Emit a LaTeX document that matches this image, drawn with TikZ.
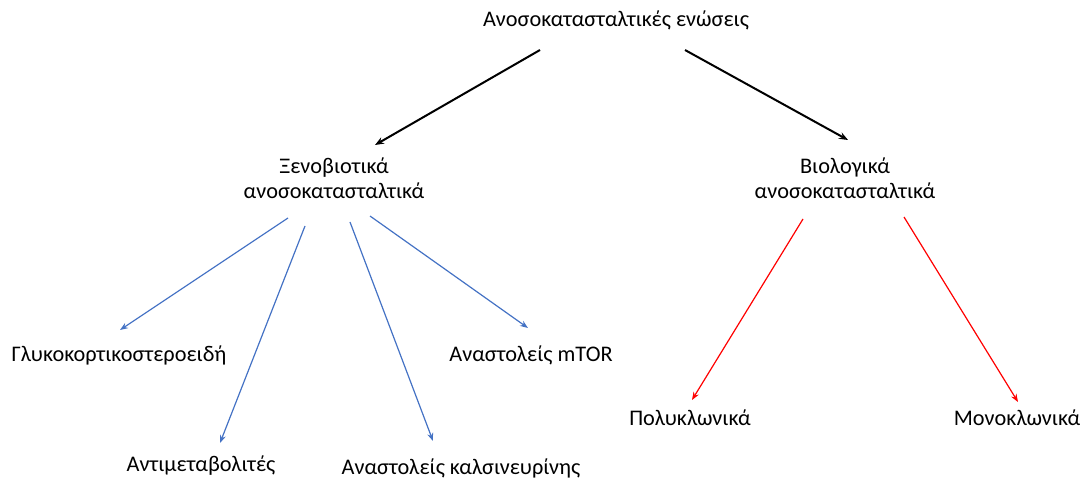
\documentclass[tikz,border=0pt]{standalone}
\usepackage{fontspec}
\setmainfont{Carlito}
\usetikzlibrary{arrows.meta}
\definecolor{obl}{HTML}{4472C4}
\begin{document}
\begin{tikzpicture}[x=1pt,y=-1pt,
  lbl/.style={inner sep=0pt,font=\fontsize{22.3}{25.5}\selectfont,align=center},
  blk/.style={line width=2pt,-{Stealth[length=9pt,width=7pt]}},
  blu/.style={obl,line width=1.2pt,-{Stealth[length=8pt,width=6pt]}},
  rd/.style={red,line width=1.2pt,-{Stealth[length=8pt,width=6pt]}}]
\useasboundingbox (0,0) rectangle (1080,478);
\node[lbl] (root) at (616,20) {Ανοσοκατασταλτικές ενώσεις};
\node[lbl] (xen) at (334,178) {Ξενοβιοτικά\\ανοσοκατασταλτικά};
\node[lbl] (bio) at (845,178) {Βιολογικά\\ανοσοκατασταλτικά};
\node[lbl] (glu) at (119,355) {Γλυκοκορτικοστεροειδή};
\node[lbl] (ant) at (201,466) {Αντιμεταβολιτές};
\node[lbl] (kal) at (461,468) {Αναστολείς καλσινευρίνης};
\node[lbl] (mtor) at (531,355) {Αναστολείς mTOR};
\node[lbl] (pol) at (690,418) {Πολυκλωνικά};
\node[lbl] (mon) at (1017,418) {Μονοκλωνικά};
\coordinate (r1) at (540,50); \coordinate (r1e) at (375,145);
\coordinate (r2) at (685,50); \coordinate (r2e) at (848,140);
\coordinate (x1) at (288,218); \coordinate (x1e) at (120,330);
\coordinate (x2) at (305,226); \coordinate (x2e) at (220,443);
\coordinate (x3) at (350,222); \coordinate (x3e) at (433,441);
\coordinate (x4) at (370,216); \coordinate (x4e) at (528,328);
\coordinate (b1) at (803,219); \coordinate (b1e) at (692,400);
\coordinate (b2) at (904,217); \coordinate (b2e) at (1018,402);
\draw[blk] (r1) -- (r1e);
\draw[blk] (r2) -- (r2e);
\draw[blu] (x1) -- (x1e);
\draw[blu] (x2) -- (x2e);
\draw[blu] (x3) -- (x3e);
\draw[blu] (x4) -- (x4e);
\draw[rd] (b1) -- (b1e);
\draw[rd] (b2) -- (b2e);
\end{tikzpicture}
\end{document}
